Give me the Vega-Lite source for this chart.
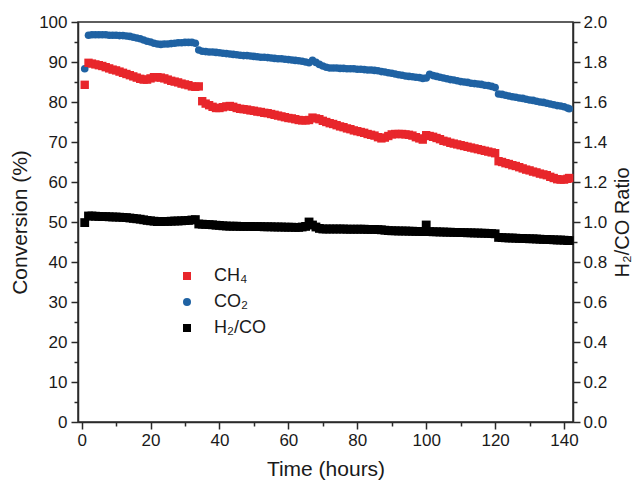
{
"$schema": "https://vega.github.io/schema/vega-lite/v6.json",
"width": 495, "height": 400,
"autosize": {"type": "none"},
"padding": {"left": 78, "top": 22, "right": 60, "bottom": 64},
"background": "white",
"config": {
  "font": "Liberation Sans",
  "view": {"stroke": "#2a2a2a", "strokeWidth": 1.5},
  "axis": {"domainColor": "#2a2a2a", "domainWidth": 1.5, "tickColor": "#2a2a2a", "tickWidth": 1.5, "labelColor": "#1a1a1a", "titleColor": "#1a1a1a", "labelFontSize": 17, "titleFontSize": 21, "titleFontWeight": "normal", "grid": false, "labelFont": "Liberation Sans", "titleFont": "Liberation Sans"},
  "legend": {"labelFontSize": 18, "labelFont": "Liberation Sans", "labelColor": "#1a1a1a", "symbolSize": 64, "symbolStrokeWidth": 0, "rowPadding": 8, "labelOffset": 18, "padding": 0}
},
"datasets": {
"co2": [{"t":0.9,"v":88.3},{"t":2,"v":96.7},{"t":3,"v":96.8},{"t":4,"v":96.8},{"t":5,"v":96.8},{"t":6,"v":96.8},{"t":7,"v":96.8},{"t":8,"v":96.7},{"t":9,"v":96.7},{"t":10,"v":96.7},{"t":11,"v":96.6},{"t":12,"v":96.6},{"t":13,"v":96.5},{"t":14,"v":96.4},{"t":15,"v":96.2},{"t":16,"v":96.0},{"t":17,"v":95.8},{"t":18,"v":95.5},{"t":19,"v":95.2},{"t":20,"v":95.0},{"t":21,"v":94.7},{"t":22,"v":94.5},{"t":23,"v":94.4},{"t":24,"v":94.5},{"t":25,"v":94.5},{"t":26,"v":94.6},{"t":27,"v":94.7},{"t":28,"v":94.8},{"t":29,"v":94.8},{"t":30,"v":94.9},{"t":31,"v":94.9},{"t":32,"v":94.9},{"t":33,"v":94.7},{"t":34,"v":93.0},{"t":35,"v":92.7},{"t":36,"v":92.6},{"t":37,"v":92.5},{"t":38,"v":92.5},{"t":39,"v":92.4},{"t":40,"v":92.3},{"t":41,"v":92.2},{"t":42,"v":92.1},{"t":43,"v":92.0},{"t":44,"v":91.9},{"t":45,"v":91.8},{"t":46,"v":91.7},{"t":47,"v":91.6},{"t":48,"v":91.6},{"t":49,"v":91.5},{"t":50,"v":91.4},{"t":51,"v":91.3},{"t":52,"v":91.2},{"t":53,"v":91.2},{"t":54,"v":91.1},{"t":55,"v":91.0},{"t":56,"v":90.9},{"t":57,"v":90.8},{"t":58,"v":90.8},{"t":59,"v":90.7},{"t":60,"v":90.6},{"t":61,"v":90.5},{"t":62,"v":90.4},{"t":63,"v":90.3},{"t":64,"v":90.2},{"t":65,"v":90.0},{"t":66,"v":89.8},{"t":67,"v":90.4},{"t":68,"v":89.9},{"t":69,"v":89.4},{"t":70,"v":89.0},{"t":71,"v":88.7},{"t":72,"v":88.5},{"t":73,"v":88.5},{"t":74,"v":88.5},{"t":75,"v":88.4},{"t":76,"v":88.4},{"t":77,"v":88.3},{"t":78,"v":88.3},{"t":79,"v":88.3},{"t":80,"v":88.2},{"t":81,"v":88.2},{"t":82,"v":88.1},{"t":83,"v":88.0},{"t":84,"v":88.0},{"t":85,"v":87.9},{"t":86,"v":87.8},{"t":87,"v":87.6},{"t":88,"v":87.5},{"t":89,"v":87.3},{"t":90,"v":87.2},{"t":91,"v":87.0},{"t":92,"v":86.8},{"t":93,"v":86.7},{"t":94,"v":86.5},{"t":95,"v":86.4},{"t":96,"v":86.3},{"t":97,"v":86.2},{"t":98,"v":86.1},{"t":99,"v":85.9},{"t":100,"v":86.0},{"t":101,"v":86.9},{"t":102,"v":86.6},{"t":103,"v":86.4},{"t":104,"v":86.2},{"t":105,"v":86.0},{"t":106,"v":85.8},{"t":107,"v":85.6},{"t":108,"v":85.5},{"t":109,"v":85.3},{"t":110,"v":85.1},{"t":111,"v":85.0},{"t":112,"v":84.9},{"t":113,"v":84.7},{"t":114,"v":84.6},{"t":115,"v":84.5},{"t":116,"v":84.4},{"t":117,"v":84.2},{"t":118,"v":84.1},{"t":119,"v":83.9},{"t":120,"v":83.6},{"t":121,"v":82.0},{"t":122,"v":81.9},{"t":123,"v":81.7},{"t":124,"v":81.5},{"t":125,"v":81.3},{"t":126,"v":81.2},{"t":127,"v":81.0},{"t":128,"v":80.9},{"t":129,"v":80.7},{"t":130,"v":80.5},{"t":131,"v":80.4},{"t":132,"v":80.2},{"t":133,"v":80.0},{"t":134,"v":79.9},{"t":135,"v":79.7},{"t":136,"v":79.5},{"t":137,"v":79.3},{"t":138,"v":79.1},{"t":139,"v":79.0},{"t":140,"v":78.8},{"t":141,"v":78.5},{"t":141.5,"v":78.3}],
"ch4": [{"t":0.9,"v":84.3},{"t":2,"v":89.8},{"t":3,"v":89.6},{"t":4,"v":89.4},{"t":5,"v":89.2},{"t":6,"v":89.0},{"t":7,"v":88.7},{"t":8,"v":88.4},{"t":9,"v":88.1},{"t":10,"v":87.9},{"t":11,"v":87.6},{"t":12,"v":87.3},{"t":13,"v":87.0},{"t":14,"v":86.7},{"t":15,"v":86.4},{"t":16,"v":86.1},{"t":17,"v":85.8},{"t":18,"v":85.6},{"t":19,"v":85.6},{"t":20,"v":85.9},{"t":21,"v":86.2},{"t":22,"v":86.2},{"t":23,"v":86.1},{"t":24,"v":85.9},{"t":25,"v":85.6},{"t":26,"v":85.3},{"t":27,"v":85.1},{"t":28,"v":84.9},{"t":29,"v":84.6},{"t":30,"v":84.4},{"t":31,"v":84.2},{"t":32,"v":83.9},{"t":33,"v":83.8},{"t":34,"v":83.9},{"t":35,"v":80.2},{"t":36,"v":79.6},{"t":37,"v":79.2},{"t":38,"v":78.8},{"t":39,"v":78.5},{"t":40,"v":78.5},{"t":41,"v":78.7},{"t":42,"v":78.9},{"t":43,"v":79.0},{"t":44,"v":78.8},{"t":45,"v":78.5},{"t":46,"v":78.3},{"t":47,"v":78.2},{"t":48,"v":78.1},{"t":49,"v":77.9},{"t":50,"v":77.8},{"t":51,"v":77.6},{"t":52,"v":77.5},{"t":53,"v":77.3},{"t":54,"v":77.2},{"t":55,"v":77.0},{"t":56,"v":76.8},{"t":57,"v":76.6},{"t":58,"v":76.4},{"t":59,"v":76.2},{"t":60,"v":76.0},{"t":61,"v":75.9},{"t":62,"v":75.7},{"t":63,"v":75.5},{"t":64,"v":75.4},{"t":65,"v":75.4},{"t":66,"v":75.5},{"t":67,"v":76.1},{"t":68,"v":75.9},{"t":69,"v":75.7},{"t":70,"v":75.3},{"t":71,"v":75.0},{"t":72,"v":74.7},{"t":73,"v":74.5},{"t":74,"v":74.2},{"t":75,"v":73.9},{"t":76,"v":73.7},{"t":77,"v":73.4},{"t":78,"v":73.2},{"t":79,"v":72.9},{"t":80,"v":72.7},{"t":81,"v":72.5},{"t":82,"v":72.3},{"t":83,"v":72.0},{"t":84,"v":71.8},{"t":85,"v":71.6},{"t":86,"v":71.2},{"t":87,"v":70.9},{"t":88,"v":71.1},{"t":89,"v":71.5},{"t":90,"v":71.9},{"t":91,"v":72.0},{"t":92,"v":72.0},{"t":93,"v":72.0},{"t":94,"v":71.9},{"t":95,"v":71.8},{"t":96,"v":71.6},{"t":97,"v":71.2},{"t":98,"v":70.9},{"t":99,"v":70.6},{"t":100,"v":71.7},{"t":101,"v":71.5},{"t":102,"v":71.3},{"t":103,"v":71.0},{"t":104,"v":70.7},{"t":105,"v":70.3},{"t":106,"v":70.1},{"t":107,"v":69.8},{"t":108,"v":69.6},{"t":109,"v":69.4},{"t":110,"v":69.2},{"t":111,"v":69.0},{"t":112,"v":68.8},{"t":113,"v":68.6},{"t":114,"v":68.4},{"t":115,"v":68.2},{"t":116,"v":68.0},{"t":117,"v":67.8},{"t":118,"v":67.6},{"t":119,"v":67.4},{"t":120,"v":67.2},{"t":121,"v":65.2},{"t":122,"v":65.0},{"t":123,"v":64.7},{"t":124,"v":64.5},{"t":125,"v":64.2},{"t":126,"v":64.0},{"t":127,"v":63.7},{"t":128,"v":63.4},{"t":129,"v":63.1},{"t":130,"v":62.9},{"t":131,"v":62.6},{"t":132,"v":62.4},{"t":133,"v":62.1},{"t":134,"v":61.9},{"t":135,"v":61.7},{"t":136,"v":61.3},{"t":137,"v":61.0},{"t":138,"v":60.7},{"t":139,"v":60.6},{"t":140,"v":60.6},{"t":141,"v":60.8},{"t":141.5,"v":61.0}],
"h2co": [{"t":0.9,"v":0.997},{"t":2,"v":1.03},{"t":3,"v":1.03},{"t":4,"v":1.029},{"t":5,"v":1.028},{"t":6,"v":1.027},{"t":7,"v":1.027},{"t":8,"v":1.026},{"t":9,"v":1.025},{"t":10,"v":1.025},{"t":11,"v":1.024},{"t":12,"v":1.023},{"t":13,"v":1.022},{"t":14,"v":1.02},{"t":15,"v":1.018},{"t":16,"v":1.016},{"t":17,"v":1.014},{"t":18,"v":1.011},{"t":19,"v":1.008},{"t":20,"v":1.006},{"t":21,"v":1.004},{"t":22,"v":1.002},{"t":23,"v":1.002},{"t":24,"v":1.003},{"t":25,"v":1.003},{"t":26,"v":1.004},{"t":27,"v":1.005},{"t":28,"v":1.005},{"t":29,"v":1.006},{"t":30,"v":1.007},{"t":31,"v":1.008},{"t":32,"v":1.01},{"t":33,"v":1.012},{"t":34,"v":0.99},{"t":35,"v":0.989},{"t":36,"v":0.988},{"t":37,"v":0.987},{"t":38,"v":0.986},{"t":39,"v":0.984},{"t":40,"v":0.983},{"t":41,"v":0.981},{"t":42,"v":0.98},{"t":43,"v":0.979},{"t":44,"v":0.979},{"t":45,"v":0.979},{"t":46,"v":0.978},{"t":47,"v":0.978},{"t":48,"v":0.978},{"t":49,"v":0.978},{"t":50,"v":0.977},{"t":51,"v":0.977},{"t":52,"v":0.977},{"t":53,"v":0.976},{"t":54,"v":0.976},{"t":55,"v":0.976},{"t":56,"v":0.975},{"t":57,"v":0.975},{"t":58,"v":0.975},{"t":59,"v":0.974},{"t":60,"v":0.974},{"t":61,"v":0.974},{"t":62,"v":0.973},{"t":63,"v":0.973},{"t":64,"v":0.975},{"t":65,"v":0.978},{"t":66,"v":1.0},{"t":67,"v":0.985},{"t":68,"v":0.975},{"t":69,"v":0.968},{"t":70,"v":0.965},{"t":71,"v":0.965},{"t":72,"v":0.965},{"t":73,"v":0.965},{"t":74,"v":0.965},{"t":75,"v":0.965},{"t":76,"v":0.965},{"t":77,"v":0.964},{"t":78,"v":0.964},{"t":79,"v":0.964},{"t":80,"v":0.964},{"t":81,"v":0.964},{"t":82,"v":0.964},{"t":83,"v":0.963},{"t":84,"v":0.963},{"t":85,"v":0.963},{"t":86,"v":0.962},{"t":87,"v":0.961},{"t":88,"v":0.959},{"t":89,"v":0.957},{"t":90,"v":0.956},{"t":91,"v":0.956},{"t":92,"v":0.955},{"t":93,"v":0.955},{"t":94,"v":0.955},{"t":95,"v":0.954},{"t":96,"v":0.954},{"t":97,"v":0.953},{"t":98,"v":0.953},{"t":99,"v":0.952},{"t":100,"v":0.985},{"t":101,"v":0.952},{"t":102,"v":0.951},{"t":103,"v":0.951},{"t":104,"v":0.95},{"t":105,"v":0.95},{"t":106,"v":0.949},{"t":107,"v":0.949},{"t":108,"v":0.948},{"t":109,"v":0.948},{"t":110,"v":0.947},{"t":111,"v":0.947},{"t":112,"v":0.946},{"t":113,"v":0.946},{"t":114,"v":0.945},{"t":115,"v":0.945},{"t":116,"v":0.944},{"t":117,"v":0.944},{"t":118,"v":0.943},{"t":119,"v":0.942},{"t":120,"v":0.941},{"t":121,"v":0.923},{"t":122,"v":0.922},{"t":123,"v":0.921},{"t":124,"v":0.92},{"t":125,"v":0.92},{"t":126,"v":0.919},{"t":127,"v":0.918},{"t":128,"v":0.918},{"t":129,"v":0.917},{"t":130,"v":0.916},{"t":131,"v":0.916},{"t":132,"v":0.915},{"t":133,"v":0.914},{"t":134,"v":0.913},{"t":135,"v":0.913},{"t":136,"v":0.912},{"t":137,"v":0.911},{"t":138,"v":0.91},{"t":139,"v":0.91},{"t":140,"v":0.909},{"t":141,"v":0.908},{"t":141.5,"v":0.907}]
},
"encoding": {
  "x": {"field": "t", "type": "quantitative", "scale": {"domain": [-1.05, 142.6], "nice": false, "zero": false},
    "axis": {"values": [0,10,20,30,40,50,60,70,80,90,100,110,120,130,140], "labelExpr": "datum.value % 20 === 0 ? datum.label : ''", "tickSize": {"condition": {"test": "datum.value % 20 === 0", "value": 7}, "value": 4}, "title": "Time (hours)", "labelPadding": 3, "titlePadding": 10, "labelFlush": false}}
},
"layer": [
  {
    "encoding": {
      "y": {"field": "v", "type": "quantitative", "scale": {"domain": [0, 100], "nice": false},
        "axis": {"values": [0,5,10,15,20,25,30,35,40,45,50,55,60,65,70,75,80,85,90,95,100], "labelExpr": "datum.value % 10 === 0 ? datum.label : ''", "tickSize": {"condition": {"test": "datum.value % 10 === 0", "value": 7}, "value": 4}, "title": "Conversion (%)", "labelPadding": 4, "titlePadding": 8, "labelFlush": false}}
    },
    "layer": [
      {"data": {"name": "co2"}, "mark": {"type": "point", "filled": true, "opacity": 1, "size": 58, "strokeWidth": 0},
       "encoding": {
         "color": {"datum": "CO₂", "scale": {"domain": ["CH₄", "CO₂", "H₂/CO"], "range": ["#e8262b", "#1f62a3", "#000000"]}, "legend": {"title": null, "orient": "none", "legendX": 100, "legendY": 245}},
         "shape": {"datum": "CO₂", "scale": {"domain": ["CH₄", "CO₂", "H₂/CO"], "range": ["square", "circle", "square"]}, "legend": {"title": null, "orient": "none", "legendX": 100, "legendY": 245}}
       }},
      {"data": {"name": "ch4"}, "mark": {"type": "point", "filled": true, "opacity": 1, "size": 70, "strokeWidth": 0},
       "encoding": {
         "color": {"datum": "CH₄", "scale": {"domain": ["CH₄", "CO₂", "H₂/CO"], "range": ["#e8262b", "#1f62a3", "#000000"]}, "legend": {"title": null, "orient": "none", "legendX": 100, "legendY": 245}},
         "shape": {"datum": "CH₄", "scale": {"domain": ["CH₄", "CO₂", "H₂/CO"], "range": ["square", "circle", "square"]}, "legend": {"title": null, "orient": "none", "legendX": 100, "legendY": 245}}
       }}
    ]
  },
  {"data": {"name": "h2co"}, "mark": {"type": "point", "filled": true, "opacity": 1, "size": 78, "strokeWidth": 0},
   "encoding": {
     "y": {"field": "v", "type": "quantitative", "scale": {"domain": [0, 2], "nice": false},
       "axis": {"orient": "right", "values": [0,0.1,0.2,0.3,0.4,0.5,0.6,0.7,0.8,0.9,1.0,1.1,1.2,1.3,1.4,1.5,1.6,1.7,1.8,1.9,2.0], "format": ".1f", "labelExpr": "round(datum.value*10) % 2 === 0 ? datum.label : ''", "tickSize": {"condition": {"test": "round(datum.value*10) % 2 === 0", "value": 7}, "value": 4}, "title": "H₂/CO Ratio", "titleFontSize": 20, "titleAngle": 270, "titleBaseline": "top", "labelPadding": 3, "titlePadding": 6, "labelFlush": false}},
     "color": {"datum": "H₂/CO", "scale": {"domain": ["CH₄", "CO₂", "H₂/CO"], "range": ["#e8262b", "#1f62a3", "#000000"]}, "legend": {"title": null, "orient": "none", "legendX": 100, "legendY": 245}},
     "shape": {"datum": "H₂/CO", "scale": {"domain": ["CH₄", "CO₂", "H₂/CO"], "range": ["square", "circle", "square"]}, "legend": {"title": null, "orient": "none", "legendX": 100, "legendY": 245}}
   }}
],
"resolve": {"scale": {"y": "independent"}}
}
